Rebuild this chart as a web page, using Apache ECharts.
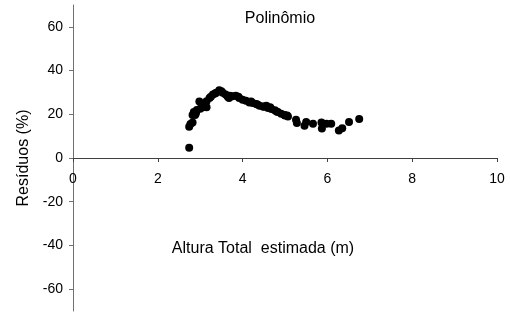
<!DOCTYPE html>
<html>
<head>
<meta charset="utf-8">
<script src="https://cdn.jsdelivr.net/npm/echarts@6/dist/echarts.min.js"></script>
<style>
  html, body { margin: 0; padding: 0; background: #fff; }
  #chart { width: 510px; height: 314px; }
</style>
</head>
<body>
<div id="chart"></div>
<script>
// altura estimada (m) e resíduos (%)
var alturas = [2.74, 2.74, 2.77, 2.82, 2.82, 2.85, 2.88, 2.9, 2.92, 2.98, 3.0, 3.05, 3.07, 3.1, 3.15, 3.15,
  3.22, 3.25, 3.3, 3.35, 3.38, 3.45, 3.5, 3.53, 3.6, 3.65, 3.68, 3.7, 3.76, 3.84, 3.9, 3.92, 4.0, 4.08,
  4.16, 4.2, 4.24, 4.32, 4.35, 4.4, 4.48, 4.5, 4.56, 4.6, 4.65, 4.68, 4.76, 4.8, 4.83, 4.91, 4.99, 5.0,
  5.05, 5.07, 5.26, 5.28, 5.46, 5.5, 5.66, 5.86, 5.87, 5.98, 6.09, 6.27, 6.35, 6.51, 6.75];
var residuos = [4.7, 14.3, 15.5, 16.2, 19.7, 21, 19.7, 20.5, 22, 25.8, 22.5, 24, 23.2, 24.5, 23.2, 26,
  27.5, 28, 29, 29.5, 29.8, 31, 30.5, 29.8, 29, 28, 27.5, 28.5, 28.2, 28.5, 28, 27.5, 26.7, 26.2,
  25.4, 25.8, 25.2, 24.7, 24.5, 23.9, 23.6, 23.5, 23.9, 22.9, 23.2, 22.4, 21.8, 21.3, 21, 20.3, 19.7, 19.5,
  19.5, 19, 17.5, 16, 14.8, 16.5, 15.7, 16.2, 13.5, 15.7, 15.7, 12.6, 13.6, 16.5, 17.8];
var yTicks = [-60, -40, -20, 0, 20, 40, 60];

var pontos = alturas.map(function (x, i) { return [x, residuos[i]]; });

var chart = echarts.init(document.getElementById("chart"));
var fonte = "Liberation Sans, Arial, sans-serif";
var option = {
  animation: false,
  grid: { left: 73, right: 13, top: 5, bottom: 3, outerBoundsMode: "none", containLabel: false },
  xAxis: {
    type: "value",
    min: 0,
    max: 10,
    interval: 2,
    // eixo x desenhado na linha do zero (metade da altura da grade)
    offset: -153,
    splitLine: { show: false },
    axisLine: { onZero: false, lineStyle: { color: "#404040", width: 1 } },
    axisTick: { show: true, length: 4, lineStyle: { color: "#404040" } },
    axisLabel: { color: "#000", fontSize: 14, fontFamily: fonte, margin: 14 }
  },
  yAxis: {
    type: "value",
    min: -70,
    max: 70,
    name: "Resíduos (%)",
    nameLocation: "middle",
    nameGap: 29,
    nameTextStyle: { color: "#000", fontSize: 16, fontFamily: fonte },
    splitLine: { show: false },
    axisLine: { show: true, lineStyle: { color: "#707070", width: 1 } },
    axisTick: { show: true, length: 4, customValues: yTicks, lineStyle: { color: "#707070" } },
    axisLabel: { color: "#000", fontSize: 14, fontFamily: fonte, margin: 10, customValues: yTicks }
  },
  graphic: [
    {
      type: "text", x: 280, y: 19,
      style: { text: "Polinômio", fill: "#000", font: "16px " + fonte, align: "center", verticalAlign: "middle" }
    },
    {
      type: "text", x: 263, y: 249,
      style: { text: "Altura Total  estimada (m)", fill: "#000", font: "16px " + fonte, align: "center", verticalAlign: "middle" }
    }
  ],
  series: [
    {
      type: "scatter",
      data: pontos,
      symbol: "circle",
      symbolSize: 8,
      itemStyle: { color: "#000", opacity: 1 }
    }
  ]
};
chart.setOption(option);
</script>
</body>
</html>
